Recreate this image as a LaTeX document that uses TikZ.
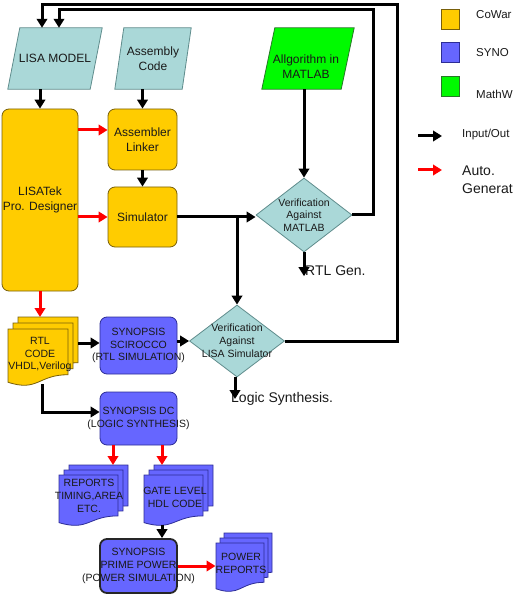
\documentclass[tikz,border=0pt]{standalone}
\usepackage{fontspec}
\setmainfont{Liberation Sans}
\usetikzlibrary{shapes.geometric,arrows.meta,calc}
\definecolor{cyanf}{RGB}{170,216,216}
\definecolor{cyand}{RGB}{95,140,140}
\definecolor{yel}{RGB}{255,204,0}
\definecolor{yeld}{RGB}{120,95,10}
\definecolor{blu}{RGB}{102,102,255}
\definecolor{blud}{RGB}{45,45,150}
\definecolor{grn}{RGB}{0,250,0}
\definecolor{grnd}{RGB}{40,120,40}
\definecolor{txt}{RGB}{25,25,25}
\pgfdeclarelayer{bg}
\pgfsetlayers{bg,main}
\newcommand\docsheet[6]{%
 \filldraw[fill=#5,draw=#6,line width=0.8pt] (#1,#2) -- (#1+#3,#2) -- (#1+#3,#2+0.802*#4) .. controls (#1+0.5*#3,#2+0.802*#4) and (#1+0.5*#3,#2+1.1075*#4) .. (#1,#2+0.934*#4) -- cycle;}
\tikzset{
 f12/.style={font=\fontsize{12pt}{15pt}\selectfont},
 f105/.style={font=\fontsize{10.5pt}{12.8pt}\selectfont},
 f115/.style={font=\fontsize{11.5pt}{14pt}\selectfont},
 f14/.style={font=\fontsize{14pt}{18pt}\selectfont},
 roundbox/.style={rounded corners=7pt, line width=0.8pt, inner sep=0pt, align=center, text=txt},
 ybox/.style={roundbox, draw=yeld, fill=yel, f12},
 bbox/.style={roundbox, draw=blud, fill=blu},
 dia/.style={diamond, draw=cyand, fill=cyanf, line width=0.8pt, inner sep=0pt},
 lbl/.style={inner sep=0pt, align=center, text=txt},
 arr/.style={line width=3pt, -{Triangle[length=9pt,width=10.5pt]}, draw=black},
 rarr/.style={arr, draw=red},
 para/.style={fill=cyanf, draw=cyand, line width=0.8pt},
 lgsq/.style={minimum width=18pt, minimum height=20pt, inner sep=0pt, line width=0.8pt},
}
\begin{document}
\begin{tikzpicture}[x=1pt,y=-1pt]
\useasboundingbox (0,0) rectangle (512,609);

% parallelogram shapes (anchors) and texts
\node[lbl, minimum width=94pt, minimum height=61pt, f12] (lisa) at (55,58.5) {LISA MODEL};
\node[lbl, minimum width=76pt, minimum height=61pt, f12] (asm) at (153,58.5) {Assembly\\Code};
\node[lbl, minimum width=92pt, minimum height=61pt] (matlab) at (308,58.5) {};
\node[lbl, f12] (matlabT) at (306,67) {Allgorithm in\\MATLAB};

% yellow boxes
\node[ybox, minimum width=76pt, minimum height=182pt] (lisatek) at (40,200) {LISATek\\Pro. Designer};
\node[ybox, minimum width=69pt, minimum height=61pt] (assem) at (142.5,139.5) {Assembler\\Linker};
\node[ybox, minimum width=69pt, minimum height=60pt] (sim) at (142.5,217) {Simulator};

% diamonds
\node[dia, minimum width=96pt, minimum height=74pt] (vm) at (304,215) {};
\node[lbl, f105] (vmT) at (vm.center) {Verification\\Against\\MATLAB};
\node[dia, minimum width=95pt, minimum height=72pt] (vl) at (237,341) {};
\node[lbl, f105] (vlT) at (vl.center) {Verification\\Against\\LISA Simulator};

% blue boxes
\node[bbox, minimum width=77pt, minimum height=57pt] (sci) at (138.5,345.5) {};
\node[lbl, f105] (sciT) at (sci.center) {SYNOPSIS\\SCIROCCO\\(RTL SIMULATION)};
\node[bbox, minimum width=77pt, minimum height=53pt] (dc) at (138.5,418.5) {};
\node[lbl, f105] (dcT) at (dc.center) {SYNOPSIS DC\\(LOGIC SYNTHESIS)};
\node[bbox, draw=black!85, line width=1.8pt, minimum width=77pt, minimum height=54pt] (pp) at (138.5,566) {};
\node[lbl, f105] (ppT) at (pp.center) {SYNOPSIS\\PRIME POWER\\(POWER SIMULATION)};

% document stacks texts
\node[lbl, f105] (rtl) at (40,354.5) {RTL\\CODE\\VHDL,Verilog};
\node[lbl, f105] (rep) at (89,496) {REPORTS\\TIMING,AREA\\ETC.};
\node[lbl, f105] (gate) at (175,497) {GATE LEVEL\\HDL CODE};
\node[lbl, f105, minimum width=48pt] (pwr) at (241,563) {POWER\\REPORTS};

\coordinate (rtlTop) at (42,317);
\coordinate (rtlR) at (78,343);
\coordinate (rtlB) at (42,384);
\coordinate (repTop) at (113,465);
\coordinate (gateTop) at (162,465);
\coordinate (gateBot) at (162,525);

\begin{pgfonlayer}{bg}
 \filldraw[para] (lisa.south west) -- ([xshift=-12pt]lisa.south east) -- (lisa.north east) -- ([xshift=12pt]lisa.north west) -- cycle;
 \filldraw[para] (asm.south west) -- ([xshift=-9pt]asm.south east) -- (asm.north east) -- ([xshift=9pt]asm.north west) -- cycle;
 \filldraw[fill=grn, draw=grnd, line width=0.8pt] (matlab.south west) -- ([xshift=-13pt]matlab.south east) -- (matlab.north east) -- ([xshift=13pt]matlab.north west) -- cycle;
 \docsheet{18}{317}{60}{57}{yel}{yeld}
 \docsheet{13}{323}{60}{57}{yel}{yeld}
 \docsheet{8}{329}{60}{57}{yel}{yeld}
 \docsheet{69}{465}{59}{51}{blu}{blud}
 \docsheet{64}{470}{59}{51}{blu}{blud}
 \docsheet{59}{475}{59}{51}{blu}{blud}
 \docsheet{154}{465}{59}{51}{blu}{blud}
 \docsheet{149}{470}{59}{51}{blu}{blud}
 \docsheet{144}{475}{59}{51}{blu}{blud}
 \docsheet{224}{533}{48}{49}{blu}{blud}
 \docsheet{220}{538}{48}{49}{blu}{blud}
 \docsheet{216}{543}{48}{49}{blu}{blud}
\end{pgfonlayer}

% free labels
\node[lbl, f14, anchor=west] (rtlgen) at (305,271) {RTL Gen.};
\node[lbl, f14, anchor=west] (logic) at (231,399) {Logic Synthesis.};

% connectors
\draw[arr] (lisatek.north |- lisa.south) -- (lisatek.north);
\draw[arr] (assem.north |- asm.south) -- (assem.north);
\draw[arr] (assem.south) -- (sim.north);
\path ([yshift=9.5pt]assem.west) coordinate (assemIn);
\draw[rarr] (lisatek.east |- assemIn) -- (assemIn);
\draw[rarr] (lisatek.east |- sim.west) -- (sim.west);
\draw[arr] (sim.east) -- (sim.east -| vm.west);
\draw[arr] (vl.north |- sim.east) -- (vl.north);
\draw[arr] (vm.north |- matlab.south) -- (vm.north);
\coordinate (fbI) at (373,10);
\coordinate (fbO) at (397,5);
\draw[arr] (vm.east) -| (fbI) -| ([xshift=4pt]lisa.north);
\draw[arr] (vl.east) -| (fbO) -| ([xshift=-13pt]lisa.north);
\draw[arr] (vm.south) -- (vm.south |- rtlgen.south);
\draw[arr] ([xshift=-2pt]vl.south) -- ([xshift=-2pt]vl.south |- logic.center);
\draw[rarr] (lisatek.south) -- (lisatek.south |- rtlTop);
\draw[arr] (rtlR) -- (rtlR -| sci.west);
\draw[arr] (sci.east |- vl.west) -- (vl.west);
\path ([yshift=6.5pt]dc.west) coordinate (dcIn);
\draw[arr] (rtlB) |- (dcIn);
\draw[rarr] (dc.south -| repTop) -- (repTop);
\draw[rarr] (dc.south -| gateTop) -- (gateTop);
\draw[arr] (gateBot) -- (gateBot |- pp.north);
\draw[rarr] (pp.east) -- (pp.east -| pwr.west);

% legend
\node[lgsq, fill=yel, draw=yeld] (lgY) at (450,19) {};
\node[lgsq, fill=blu, draw=blud] (lgB) at (450,52) {};
\node[lgsq, fill=grn, draw=grnd] (lgG) at (450,86) {};
\node[lbl, f115, anchor=west] (lgYT) at (476,15) {CoWar};
\node[lbl, f115, anchor=west] (lgBT) at (476,53) {SYNO};
\node[lbl, f115, anchor=west] (lgGT) at (476,94) {MathW};
\coordinate (la1) at (418,136);
\coordinate (la2) at (442,136);
\coordinate (lr1) at (418,170);
\coordinate (lr2) at (442,170);
\draw[arr] (la1) -- (la2);
\draw[rarr] (lr1) -- (lr2);
\node[lbl, f115, anchor=west] (lgIO) at (462,135) {Input/Out};
\node[lbl, f14, anchor=west, align=left] (lgAG) at (462,179.5) {Auto.\\Generat};
\end{tikzpicture}
\end{document}
